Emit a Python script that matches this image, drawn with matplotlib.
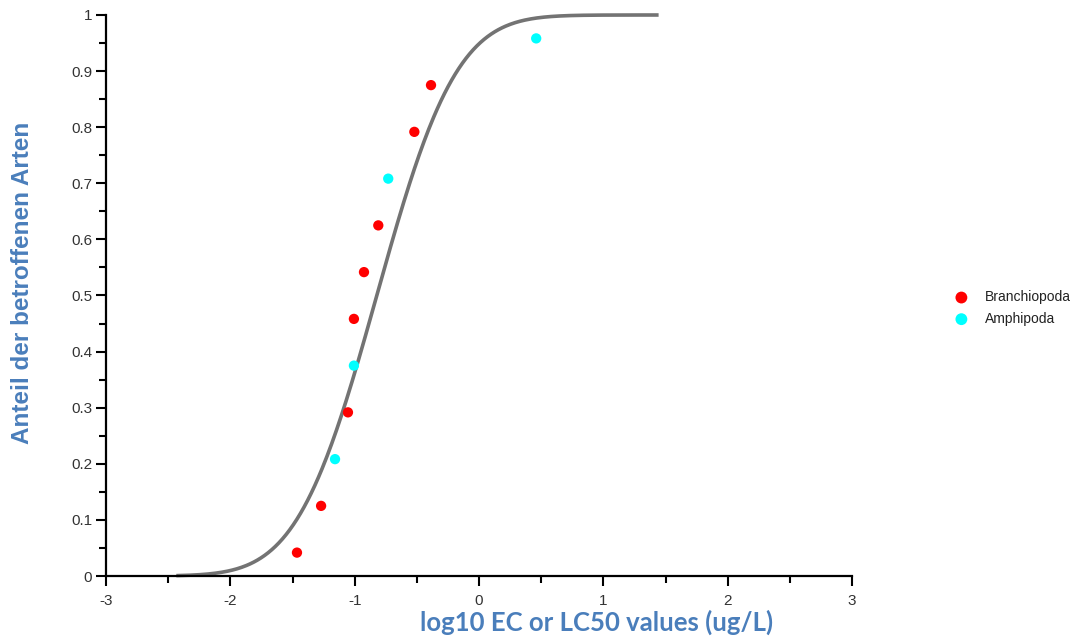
import math
import numpy as np
import matplotlib
matplotlib.use("Agg")
import matplotlib.pyplot as plt
from matplotlib.ticker import MultipleLocator, FuncFormatter

# Data (log10 EC/LC50 values and plotting positions)
branchiopoda_x = [-1.464, -1.27, -1.054, -1.006, -0.925, -0.81, -0.52, -0.386]
branchiopoda_y = [0.0417, 0.125, 0.2917, 0.4583, 0.5417, 0.625, 0.7917, 0.875]
amphipoda_x = [-1.158, -1.006, -0.73, 0.46]
amphipoda_y = [0.2083, 0.375, 0.7083, 0.9583]

# Fitted log-normal SSD parameters
fit_mu = -0.822
fit_sigma = 0.504
fit_xmin = -2.42
fit_xmax = 1.43

series_labels = ["Branchiopoda", "Amphipoda"]
x_label = "log10 EC or LC50 values (ug/L)"
y_label = "Anteil der betroffenen Arten"

fig = plt.figure(figsize=(10.85, 6.38), dpi=100)
ax = fig.add_axes([106 / 1085, 1 - 576 / 638, (852 - 106) / 1085, (576 - 15) / 638])

xs = np.linspace(fit_xmin, fit_xmax, 400)
ys = [0.5 * (1 + math.erf((v - fit_mu) / (fit_sigma * math.sqrt(2)))) for v in xs]
ax.plot(xs, ys, color="#737373", lw=2.6, clip_on=False, zorder=2)

h1 = ax.scatter(branchiopoda_x, branchiopoda_y, s=55, color="#ff0000", edgecolors="none",
                zorder=3, clip_on=False, label=series_labels[0])
h2 = ax.scatter(amphipoda_x, amphipoda_y, s=55, color="#00ffff", edgecolors="none",
                zorder=3, clip_on=False, label=series_labels[1])

ax.set_xlim(-3, 3)
ax.set_ylim(0, 1)
for s in ["top", "right"]:
    ax.spines[s].set_visible(False)
for s in ["left", "bottom"]:
    ax.spines[s].set_linewidth(1.6)
    ax.spines[s].set_color("black")

ax.xaxis.set_major_locator(MultipleLocator(1))
ax.xaxis.set_minor_locator(MultipleLocator(0.5))
ax.yaxis.set_major_locator(MultipleLocator(0.1))
ax.yaxis.set_minor_locator(MultipleLocator(0.05))
ax.yaxis.set_major_formatter(FuncFormatter(lambda v, p: f"{v:g}"))
ax.xaxis.set_major_formatter(FuncFormatter(lambda v, p: f"{v:g}"))

ax.tick_params(which="major", direction="out", length=7, width=1.5, colors="black",
               labelcolor="#333333", labelsize=11)
ax.tick_params(axis="x", which="major", pad=6)
ax.tick_params(axis="y", which="major", pad=3)
ax.tick_params(which="minor", direction="out", length=5, width=1.5, colors="black")
for lab in ax.get_xticklabels() + ax.get_yticklabels():
    lab.set_family(["Liberation Sans", "DejaVu Sans"])

ax.set_xlabel(x_label, color="#4a7ebb", fontsize=18.5, fontweight="bold",
              family=["Liberation Sans Narrow", "Lato", "DejaVu Sans"])
ax.xaxis.set_label_coords(0.658, -0.06)
ax.set_ylabel(y_label, color="#4a7ebb", fontsize=17.5, fontweight="bold",
              family=["Liberation Sans", "DejaVu Sans"])
ax.yaxis.set_label_coords(-0.097, 0.522)

leg = fig.legend(handles=[h1, h2], loc="center left", bbox_to_anchor=(935 / 1085, 1 - 308 / 638),
                 frameon=False, handletextpad=0.7, labelspacing=0.55, markerscale=1.15,
                 prop={"family": ["Liberation Sans", "DejaVu Sans"], "size": 10})
for t in leg.get_texts():
    t.set_color("#222222")

fig.savefig("out.png", dpi=100)
